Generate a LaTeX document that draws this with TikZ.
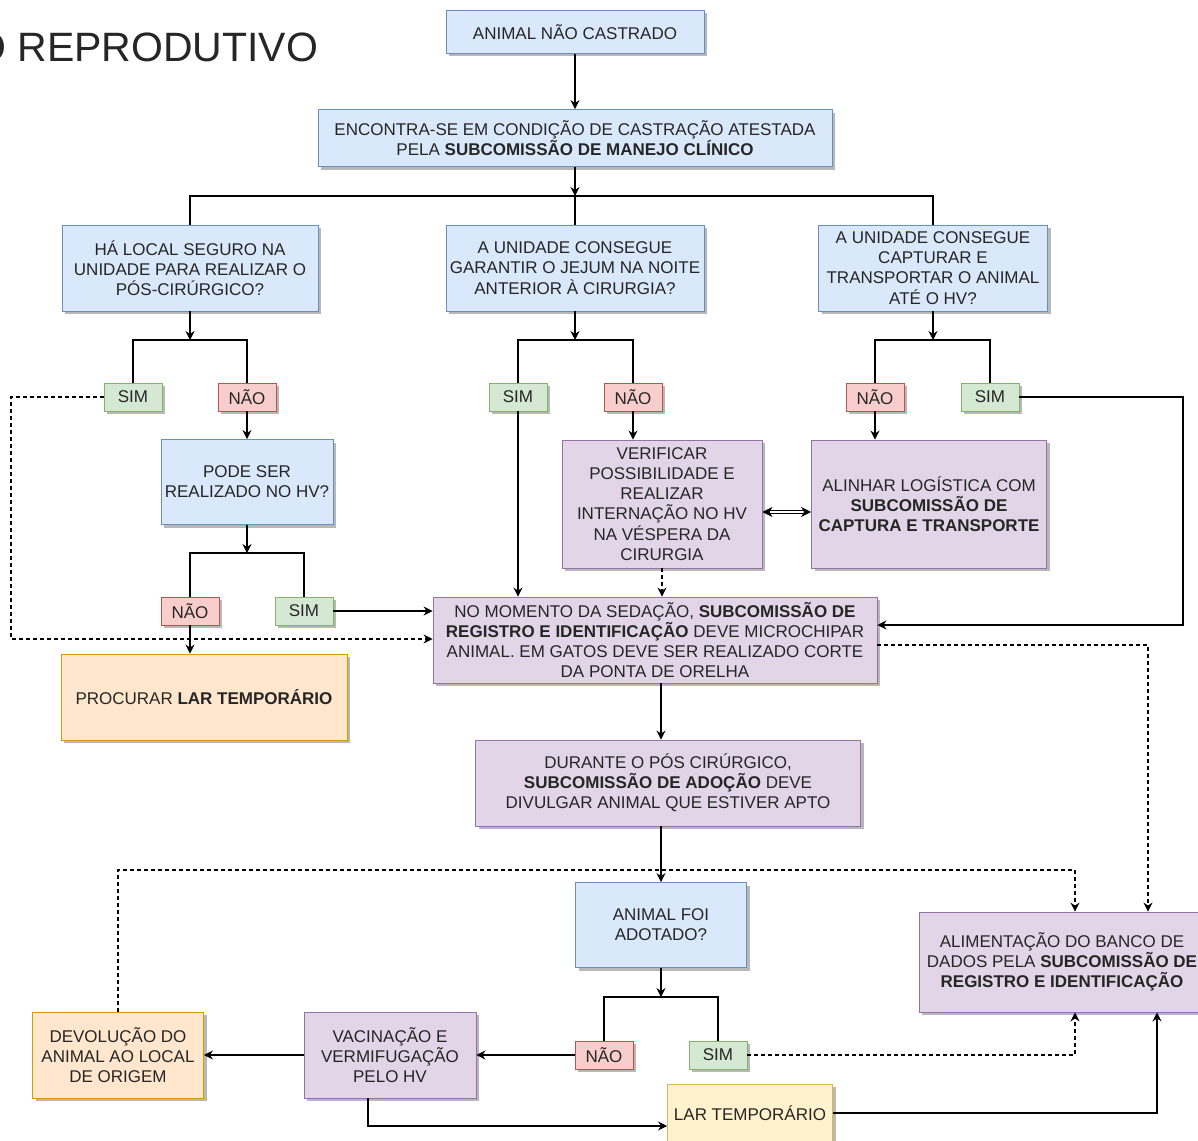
\documentclass[tikz,border=0pt]{standalone}
\usepackage{fontspec}
\setmainfont{Liberation Sans}
\usetikzlibrary{arrows.meta,shadows,calc}

\definecolor{txt}{HTML}{262626}
\definecolor{blueF}{HTML}{DAE8FC}\definecolor{blueD}{HTML}{6C8EBF}
\definecolor{greenF}{HTML}{D5E8D4}\definecolor{greenD}{HTML}{82B366}
\definecolor{redF}{HTML}{F8CECC}\definecolor{redD}{HTML}{B85450}
\definecolor{purF}{HTML}{E1D5E7}\definecolor{purD}{HTML}{9673A6}
\definecolor{oraF}{HTML}{FFE6CC}\definecolor{oraD}{HTML}{D79B00}
\definecolor{yelF}{HTML}{FFF2CC}\definecolor{yelD}{HTML}{D6B656}

\begin{document}
\begin{tikzpicture}[x=1pt,y=-1pt,
  base/.style={rectangle, draw, line width=0.9pt, align=center, text=txt,
    font=\fontsize{17}{20.2}\selectfont, inner sep=2pt,
    drop shadow={shadow xshift=3pt, shadow yshift=-3pt, fill=black, opacity=0.28}},
  sz/.style 2 args={minimum width=#1pt, minimum height=#2pt},
  qbox/.style={base, fill=blueF, draw=blueD},
  yesbox/.style={base, fill=greenF, draw=greenD, minimum width=58pt, minimum height=28pt},
  nobox/.style={base, fill=redF, draw=redD, minimum width=58pt, minimum height=28pt},
  pubox/.style={base, fill=purF, draw=purD},
  orbox/.style={base, fill=oraF, draw=oraD},
  ylbox/.style={base, fill=yelF, draw=yelD},
  wire/.style={line width=1.1pt, draw=black},
  arr/.style={wire, -{Stealth[length=9pt,width=9pt,inset=3pt]}},
  dsh/.style={dash pattern=on 4pt off 3pt},
  dbl/.style={double, double distance=2.2pt, line width=0.9pt,
    {Stealth[length=10pt,width=10pt,inset=3pt]}-{Stealth[length=10pt,width=10pt,inset=3pt]}},
]
\useasboundingbox (0,0) rectangle (1198,1140);
\clip (0,0) rectangle (1198,1140);
\fill[white] (0,0) rectangle (1198,1140);

% heading
\node[anchor=base west, inner sep=0pt, text=txt, font=\fontsize{41}{48}\selectfont] (title) at (-26,62) {O REPRODUTIVO};

% boxes
\node[qbox, sz={258}{43}] (start) at (575,32) {ANIMAL NÃO CASTRADO};
\node[qbox, sz={514}{57}] (cond) at (575,138) {ENCONTRA-SE EM CONDIÇÃO DE CASTRAÇÃO ATESTADA\\PELA \textbf{SUBCOMISSÃO DE MANEJO CLÍNICO}};
\node[qbox, sz={256}{86}] (qpos) at (190,268) {HÁ LOCAL SEGURO NA\\UNIDADE PARA REALIZAR O\\PÓS-CIRÚRGICO?};
\node[qbox, sz={258}{86}] (qjej) at (575,268) {A UNIDADE CONSEGUE\\GARANTIR O JEJUM NA NOITE\\ANTERIOR À CIRURGIA?};
\node[qbox, sz={229}{86}] (qcap) at (933,268) {A UNIDADE CONSEGUE\\CAPTURAR E\\TRANSPORTAR O ANIMAL\\ATÉ O HV?};

\node[yesbox] (simA) at (133,397) {SIM};
\node[nobox] (naoA) at (247,397) {NÃO};
\node[qbox, sz={172}{85}] (qhv) at (247,482) {PODE SER\\REALIZADO NO HV?};
\node[nobox] (naoB) at (190,611) {NÃO};
\node[yesbox] (simB) at (304,611) {SIM};
\node[orbox, sz={286}{86}] (lar1) at (204,697) {PROCURAR \textbf{LAR TEMPORÁRIO}};

\node[yesbox] (simC) at (518,397) {SIM};
\node[nobox] (naoC) at (633,397) {NÃO};
\node[pubox, sz={200}{128}] (intern) at (662,504) {VERIFICAR\\POSSIBILIDADE E\\REALIZAR\\INTERNAÇÃO NO HV\\NA VÉSPERA DA\\CIRURGIA};

\node[nobox] (naoD) at (875,397) {NÃO};
\node[yesbox] (simD) at (990,397) {SIM};
\node[pubox, sz={235}{128}] (logist) at (929,504) {ALINHAR LOGÍSTICA COM\\\textbf{SUBCOMISSÃO DE}\\\textbf{CAPTURA E TRANSPORTE}};

\node[pubox, sz={444}{86}] (chip) at (655,640) {NO MOMENTO DA SEDAÇÃO, \textbf{SUBCOMISSÃO DE}\\\textbf{REGISTRO E IDENTIFICAÇÃO} DEVE MICROCHIPAR\\ANIMAL. EM GATOS DEVE SER REALIZADO CORTE\\DA PONTA DE ORELHA};
\node[pubox, sz={385}{86}] (adoc) at (668,783) {DURANTE O PÓS CIRÚRGICO,\\\textbf{SUBCOMISSÃO DE ADOÇÃO} DEVE\\DIVULGAR ANIMAL QUE ESTIVER APTO};
\node[qbox, sz={171}{85}] (qado) at (661,925) {ANIMAL FOI\\ADOTADO?};

\node[nobox] (naoE) at (604,1055) {NÃO};
\node[yesbox] (simE) at (718,1055) {SIM};
\node[pubox, sz={172}{86}] (vacina) at (390,1055) {VACINAÇÃO E\\VERMIFUGAÇÃO\\PELO HV};
\node[orbox, sz={171}{86}] (devol) at (118,1055) {DEVOLUÇÃO DO\\ANIMAL AO LOCAL\\DE ORIGEM};
\node[ylbox, sz={165}{58}] (lar2) at (750,1113) {LAR TEMPORÁRIO};
\node[pubox, sz={286}{100}] (banco) at (1062,962) {ALIMENTAÇÃO DO BANCO DE\\DADOS PELA \textbf{SUBCOMISSÃO DE}\\\textbf{REGISTRO E IDENTIFICAÇÃO}};

% junction points and bends
\coordinate (j1) at (575,196);
\coordinate (j2) at (190,340);
\coordinate (j3) at (247,553);
\coordinate (j4) at (575,340);
\coordinate (j5) at (933,340);
\coordinate (j6) at (661,997);
\coordinate (dL) at (11,639);
\coordinate (rR) at (1183,625);
\coordinate (rD) at (1148,645);
\coordinate (cx) at (661,0);
\coordinate (tL) at (118,870);
\coordinate (tR) at (1075,870);
\coordinate (bL) at (368,1126);
\coordinate (bR) at (1157,1113);
\coordinate (sR) at (1075,1055);

% top section
\draw[arr] (start) -- (cond);
\draw[arr] (cond.south) -- (j1);
\draw[wire] (qpos.north) |- (j1) -| (qcap.north);
\draw[wire] (j1) -- (qjej.north);

% left branch
\draw[arr] (qpos.south) -- (j2);
\draw[wire] (simA.north) |- (j2) -| (naoA.north);
\draw[arr] (naoA) -- (qhv);
\draw[arr] (qhv.south) -- (j3);
\draw[wire] (naoB.north) |- (j3) -| (simB.north);
\draw[arr] (simB.east) -- (simB.east -| chip.west);
\draw[arr] (naoB.south) -- (naoB.south |- lar1.north);
\draw[arr, dsh] (simA.west) -| (dL) -- (dL -| chip.west);

% middle branch
\draw[arr] (qjej.south) -- (j4);
\draw[wire] (simC.north) |- (j4) -| (naoC.north);
\draw[arr] (simC.south) -- (simC.south |- chip.north);
\draw[arr] (naoC.south) -- (naoC.south |- intern.north);
\draw[arr, dsh] (intern.south) -- (intern.south |- chip.north);
\draw[dbl] ([yshift=-8pt]intern.east) -- ([yshift=-8pt]logist.west);

% right branch
\draw[arr] (qcap.south) -- (j5);
\draw[wire] (naoD.north) |- (j5) -| (simD.north);
\draw[arr] (naoD.south) -- (naoD.south |- logist.north);
\draw[arr] (simD.east) -| (rR) -- (rR -| chip.east);
\draw[arr, dsh] (rD -| chip.east) -- (rD) -- (rD |- banco.north);

% lower section
\draw[arr, dsh] (devol.north) -- (tL) -- (tR) -- (tR |- banco.north);
\draw[arr] (cx |- chip.south) -- (cx |- adoc.north);
\draw[arr] (cx |- adoc.south) -- (qado.north);
\draw[arr] (qado.south) -- (j6);
\draw[wire] (naoE.north) |- (j6) -| (simE.north);
\draw[arr] (naoE.west) -- (vacina.east);
\draw[arr] (vacina.west) -- (devol.east);
\draw[arr] (bL |- vacina.south) -- (bL) -- (bL -| lar2.west);
\draw[arr] (lar2.east) -- (bR) -- (bR |- banco.south);
\draw[arr, dsh] (simE.east) -- (sR) -- (sR |- banco.south);
\end{tikzpicture}
\end{document}
